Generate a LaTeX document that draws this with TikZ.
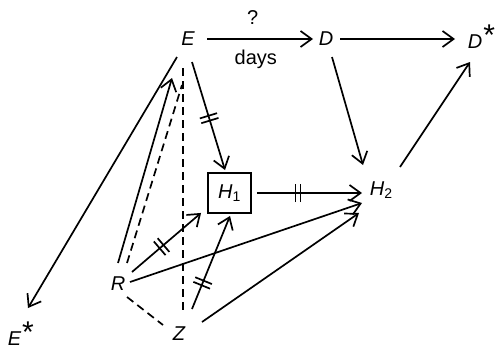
\documentclass[tikz,border=0pt]{standalone}
\usepackage{fontspec}
\setmainfont{Liberation Sans}
\usetikzlibrary{arrows.meta,calc,decorations.markings}

\newcommand{\upstar}{\kern1pt\raisebox{3pt}{\upshape\fontsize{30}{30}\selectfont *}}

\begin{document}
\begin{tikzpicture}[x=1pt,y=-1pt,>={Straight Barb[length=11pt,width=16pt]},line width=1.7pt,
  every node/.style={font=\fontsize{20}{22}\selectfont,inner sep=2pt},
  var/.style={font=\fontsize{20}{22}\selectfont\itshape},
  boxvar/.style={var,draw,line width=1.9pt,minimum width=43pt,minimum height=40pt},
  link/.style={dash pattern=on 8pt off 5pt},
  dbar/.style={postaction={decorate},decoration={markings,mark=at position #1 with {
    \draw[-] (-2.5pt,-9pt) -- (-2.5pt,9pt) (2.5pt,-9pt) -- (2.5pt,9pt);}}}]
\useasboundingbox (0,0) rectangle (498,351);
% variables
\node[var,anchor=base] (E) at (188,45) {E};
\node[var,anchor=base] (D) at (326,45) {D};
\node[var,anchor=base west] (Ds) at (465,48) {D\upstar};
\node[var,anchor=base west] (Es) at (5,345) {E\upstar};
\node[boxvar] (H1) at (229.5,193) {H\textsubscript{\upshape 1}};
\node[var,anchor=base west] (H2) at (367,195) {H\textsubscript{\upshape 2}};
\node[var,anchor=base] (R) at (118,290) {R};
\node[var,anchor=base] (Z) at (179,340) {Z};
% top row
\draw[->] ($(E.base)+(19,-6)$) -- ($(D.base)+(-13,-6)$)
  node[pos=0.43,above=12pt] {?} node[pos=0.46,below=8pt] {days};
\draw[->] ($(D.base)+(14,-6)$) -- ($(Ds.base west)+(-10,-9)$);
\draw[->] ($(E.base)+(-11,12)$) -- ($(Es.base west)+(23,-37)$);
% into H1 and H2
\draw[->,dbar=0.52] ($(E.base)+(4,17)$) -- ($(H1.north)+(-4.5,-2)$);
\draw[->] ($(D.base)+(6,12)$) -- ($(H2.base west)+(-4,-30)$);
\draw[->] ($(H2.base west)+(33,-28)$) -- ($(Ds.base west)+(5,14)$);
\draw[->,dbar=0.39] ($(H1.east)+(5,0)$) -- ($(H2.base west)+(-5,-2)$);
% from R and Z
\draw[->] ($(R.base)+(0,-27)$) -- ($(E.base)+(-16,33)$);
\draw[link] ($(R.base)+(9,-27)$) -- ($(E.base)+(-6,40)$);
\draw[link] ($(E.base)+(-5,23)$) -- ($(Z.base)+(4,-28)$);
\draw[link] ($(R.base)+(9,7)$) -- ($(Z.base)+(-16,-15)$);
\draw[->,dbar=0.43] ($(R.base)+(14,-18)$) -- ($(H1.south west)+(-6,-1)$);
\draw[->] ($(R.base)+(12,-8)$) -- ($(H2.base west)+(-5,8)$);
\draw[->,dbar=0.28] ($(Z.base)+(13,-31)$) -- ($(H1.south)+(0.5,2)$);
\draw[->] ($(Z.base)+(23,-18)$) -- ($(H2.base west)+(-8,18)$);
\end{tikzpicture}
\end{document}
